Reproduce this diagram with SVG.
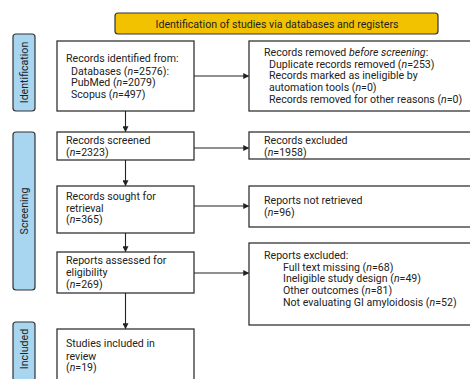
<svg xmlns="http://www.w3.org/2000/svg" width="470" height="379" viewBox="0 0 470 379">
<defs>
<marker id="ah" viewBox="0 0 8 8" refX="7" refY="4" markerWidth="6" markerHeight="6" orient="auto" markerUnits="userSpaceOnUse">
<path d="M0,0 L8,4 L0,8 z" fill="#222"/>
</marker>
<style>
.box{fill:#fff;stroke:#333;stroke-width:1.3}
.side{fill:#a8d5f0;stroke:#333;stroke-width:1.2}
.hdr{fill:#f2c200;stroke:#333;stroke-width:1.2}
text{font-family:Roboto,"Liberation Sans",sans-serif;font-size:10.6px;fill:#222}
.lbl{font-size:10.6px;text-anchor:middle}
.con{stroke:#222;stroke-width:1.1;fill:none;marker-end:url(#ah)}
</style>
</defs>
<rect width="470" height="379" fill="#fff"/>
<g id="header">
<rect class="hdr" x="115" y="13" width="323" height="21" rx="3"/>
<text x="277" y="27.5" text-anchor="middle">Identification of studies via databases and registers</text>
</g>
<g id="lbl-identification">
<rect class="side" x="13" y="34" width="22" height="77" rx="3"/>
<text class="lbl" transform="translate(28,72.5) rotate(-90)">Identification</text>
</g>
<g id="lbl-screening">
<rect class="side" x="13" y="132" width="22" height="158" rx="3"/>
<text class="lbl" transform="translate(28,211) rotate(-90)">Screening</text>
</g>
<g id="lbl-included">
<rect class="side" x="13" y="322" width="22" height="70" rx="3"/>
<text class="lbl" transform="translate(28,349) rotate(-90)">Included</text>
</g>
<g id="n-identified">
<rect class="box" x="57" y="41" width="137" height="70"/>
<text x="66" y="62">Records identified from:</text>
<text x="71" y="74.5">Databases (<tspan font-style="italic">n</tspan>=2576):</text>
<text x="71" y="86">PubMed (<tspan font-style="italic">n</tspan>=2079)</text>
<text x="71" y="98">Scopus (<tspan font-style="italic">n</tspan>=497)</text>
</g>
<g id="n-removed">
<rect class="box" x="249" y="41" width="230" height="70"/>
<text x="264" y="56">Records removed <tspan font-style="italic">before screening</tspan>:</text>
<text x="269" y="67.5">Duplicate records removed (<tspan font-style="italic">n</tspan>=253)</text>
<text x="269" y="79">Records marked as ineligible by</text>
<text x="269" y="91">automation tools (<tspan font-style="italic">n</tspan>=0)</text>
<text x="269" y="103">Records removed for other reasons (<tspan font-style="italic">n</tspan>=0)</text>
</g>
<g id="n-screened">
<rect class="box" x="57" y="132" width="137" height="28"/>
<text x="66" y="144">Records screened</text>
<text x="66" y="156">(<tspan font-style="italic">n</tspan>=2323)</text>
</g>
<g id="n-excluded">
<rect class="box" x="249" y="132" width="230" height="27"/>
<text x="264" y="144">Records excluded</text>
<text x="264" y="155.5">(<tspan font-style="italic">n</tspan>=1958)</text>
</g>
<g id="n-sought">
<rect class="box" x="57" y="186" width="137" height="47"/>
<text x="66" y="200">Records sought for</text>
<text x="66" y="211.5">retrieval</text>
<text x="66" y="223">(<tspan font-style="italic">n</tspan>=365)</text>
</g>
<g id="n-notretrieved">
<rect class="box" x="249" y="186" width="230" height="41"/>
<text x="264" y="204">Reports not retrieved</text>
<text x="264" y="216">(<tspan font-style="italic">n</tspan>=96)</text>
</g>
<g id="n-assessed">
<rect class="box" x="57" y="252" width="137" height="41"/>
<text x="66" y="264">Reports assessed for</text>
<text x="66" y="276">eligibility</text>
<text x="66" y="287.5">(<tspan font-style="italic">n</tspan>=269)</text>
</g>
<g id="n-repexcluded">
<rect class="box" x="249" y="243" width="230" height="82"/>
<text x="264" y="259">Reports excluded:</text>
<text x="283" y="270.5">Full text missing (<tspan font-style="italic">n</tspan>=68)</text>
<text x="283" y="282">Ineligible study design (<tspan font-style="italic">n</tspan>=49)</text>
<text x="283" y="294">Other outcomes (<tspan font-style="italic">n</tspan>=81)</text>
<text x="283" y="306">Not evaluating GI amyloidosis (<tspan font-style="italic">n</tspan>=52)</text>
</g>
<g id="n-included">
<rect class="box" x="57" y="329" width="137" height="60"/>
<text x="66" y="347">Studies included in</text>
<text x="66" y="359.5">review</text>
<text x="66" y="371">(<tspan font-style="italic">n</tspan>=19)</text>
</g>
<g id="connectors">
<line class="con" x1="125.5" y1="111" x2="125.5" y2="131.5"/>
<line class="con" x1="125.5" y1="160" x2="125.5" y2="185.5"/>
<line class="con" x1="125.5" y1="233" x2="125.5" y2="251.5"/>
<line class="con" x1="125.5" y1="293" x2="125.5" y2="328.5"/>
<line class="con" x1="194" y1="76" x2="248.5" y2="76"/>
<line class="con" x1="194" y1="148" x2="248.5" y2="148"/>
<line class="con" x1="194" y1="206" x2="248.5" y2="206"/>
<line class="con" x1="194" y1="273" x2="248.5" y2="273"/>
</g>
</svg>
